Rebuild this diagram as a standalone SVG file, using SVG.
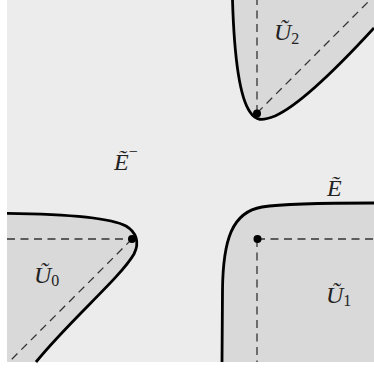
<svg xmlns="http://www.w3.org/2000/svg" width="374" height="368" viewBox="0 0 374 368">
<style>
.bg{fill:#ececec}
.reg{fill:#d9d9d9;stroke:none}
.curve{fill:none;stroke:#000;stroke-width:2.8;stroke-linecap:butt}
.dash{fill:none;stroke:#333;stroke-width:1.3;stroke-dasharray:8 5.5}
.dot{fill:#000}
.lab{font-family:"Liberation Serif","Times New Roman",serif;font-style:italic;font-size:24px;fill:#222}
.sub{font-style:normal;font-size:16px}
</style>
<rect x="0" y="0" width="374" height="368" fill="#fff"/>
<rect class="bg" x="7" y="0" width="367" height="362"/>
<g id="U2">
<path class="reg" d="M232.5,0 C234,50 238,95 250,112 C256,121 262,121 275,116 C300,105 340,65 374,28 L374,0 Z"/>
<path class="dash" d="M257,113 L257,0 M257,113 L370,0"/>
<path class="curve" d="M232.5,0 C234,50 238,95 250,112 C256,121 262,121 275,116 C300,105 340,65 374,28"/>
<circle class="dot" cx="257" cy="113.5" r="4"/>
<text class="lab" x="274" y="39.5">Ũ<tspan class="sub" dy="4">2</tspan></text>
</g>
<g id="U0">
<path class="reg" d="M7,213.3 C60,214 110,217 126,226 C136,232 140,242 134,254 C120,278 70,320 36,362 L7,362 Z"/>
<path class="dash" d="M7,239 L132,239 M132,239 L9,362"/>
<path class="curve" d="M7,213.3 C60,214 110,217 126,226 C136,232 140,242 134,254 C120,278 70,320 36,362"/>
<circle class="dot" cx="132" cy="239" r="4"/>
<text class="lab" x="34" y="282.5">Ũ<tspan class="sub" dy="3">0</tspan></text>
</g>
<g id="U1">
<path class="reg" d="M222,362 L222.5,290 C223,240 232,212 262,207 C285,203.5 320,203 374,203 L374,362 Z"/>
<path class="dash" d="M257,239 L374,239 M257,239 L257,362"/>
<path class="curve" d="M222,362 L222.5,290 C223,240 232,212 262,207 C285,203.5 320,203 374,203"/>
<circle class="dot" cx="257.5" cy="239" r="4"/>
<text class="lab" x="326" y="302.5">Ũ<tspan class="sub" dy="3">1</tspan></text>
</g>
<g id="Eminus">
<text class="lab" x="114" y="170">Ẽ<tspan class="sub" dy="-13">−</tspan></text>
</g>
<g id="E">
<text class="lab" x="327" y="196">Ẽ</text>
</g>
<g id="connectors"></g>
</svg>
